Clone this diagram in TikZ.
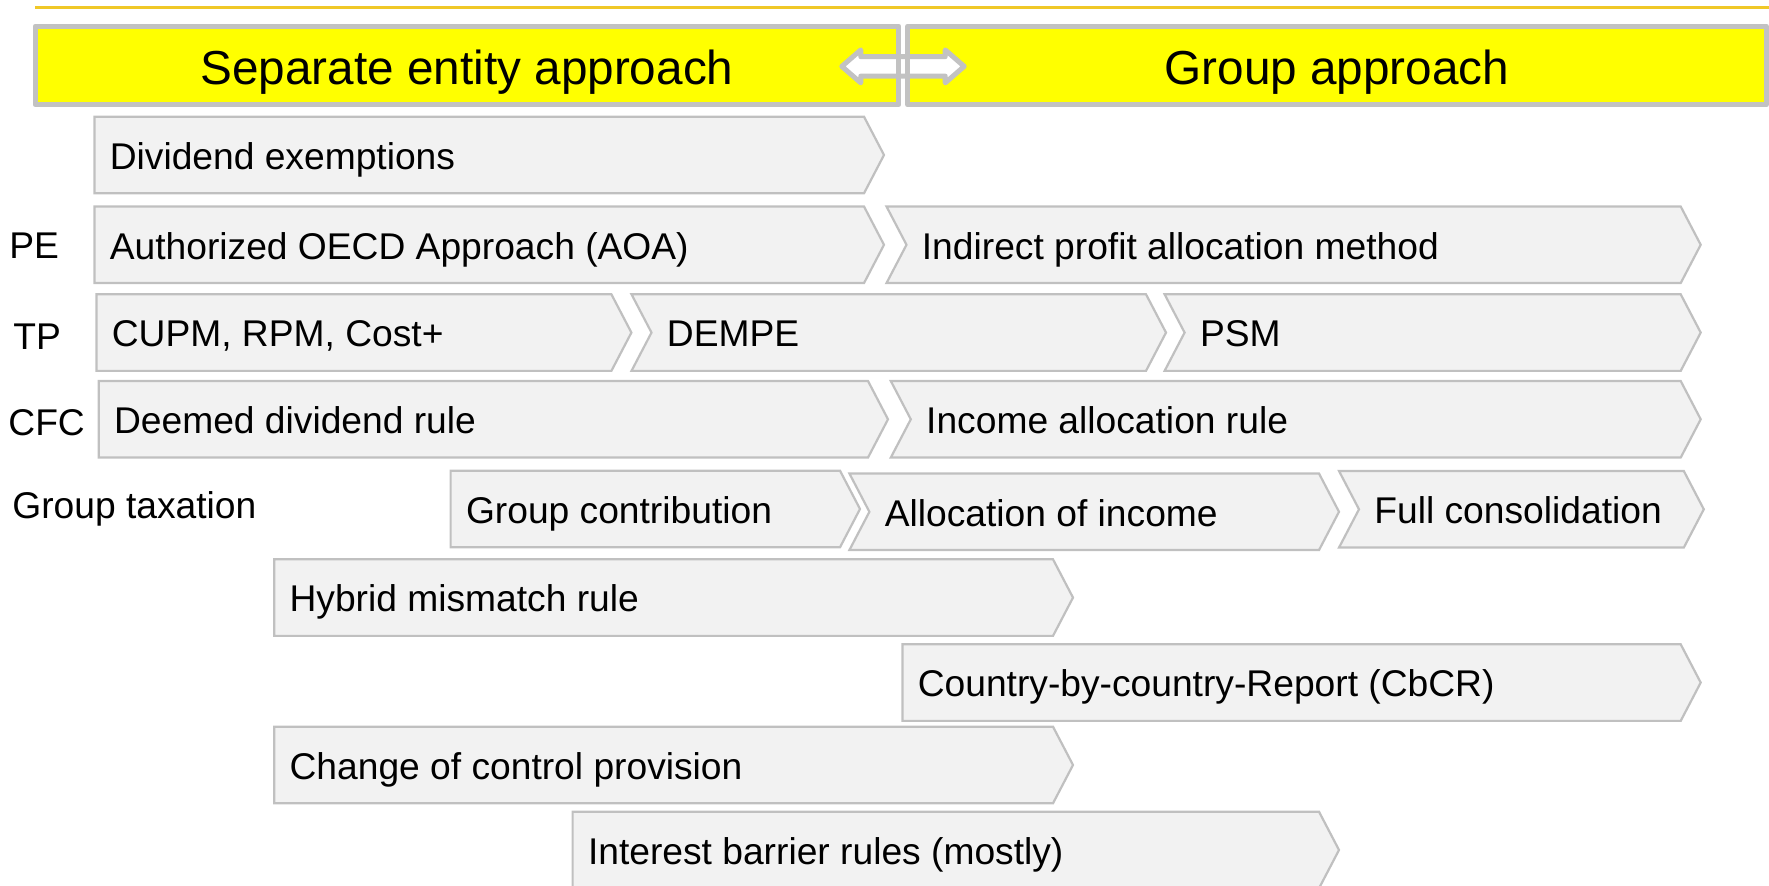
\documentclass[tikz,border=0pt]{standalone}
\usepackage{fontspec}
\setmainfont{Liberation Sans}
\usetikzlibrary{shapes.arrows}

\definecolor{hdryellow}{RGB}{255,255,0}
\definecolor{hdrgray}{RGB}{194,194,194}
\definecolor{chevfill}{RGB}{242,242,242}
\definecolor{chevline}{RGB}{192,192,192}
\definecolor{rulegold}{RGB}{240,200,40}

\newcommand{\chevflat}[5]{%
  \draw[chevbox] (#2,#4) -- (#3,#4) -- (#3+20,#4+38.3) -- (#3,#4+76.6) -- (#2,#4+76.6) -- cycle;
  \node[chevtext] (#1) at (#2+15,#4+52.6) {#5};}
\newcommand{\chevnotch}[5]{%
  \draw[chevbox] (#2,#4) -- (#3,#4) -- (#3+20,#4+38.3) -- (#3,#4+76.6) -- (#2,#4+76.6) -- (#2+20,#4+38.3) -- cycle;
  \node[chevtext] (#1) at (#2+35,#4+52.6) {#5};}

\begin{document}
\begin{tikzpicture}[x=0.5pt,y=-0.5pt,
    hdr/.style={fill=hdryellow,minimum height=38.85pt,inner sep=0pt,text height=19.1pt,text depth=0pt,font=\fontsize{23.85}{28}\selectfont},
    hdrline/.style={draw=hdrgray,line width=2.5pt,line join=round},
    chevbox/.style={draw=chevline,fill=chevfill,line width=1.1pt},
    chevtext/.style={anchor=base west,inner sep=0pt,font=\fontsize{18.6}{22}\selectfont},
    rowlabel/.style={anchor=base west,inner sep=0pt,font=\fontsize{18.6}{22}\selectfont},
    swaparrow/.style={double arrow,draw=hdrgray,fill=white,line width=2.5pt,line join=round,minimum height=61.2pt,inner sep=3.6pt,double arrow head extend=3.4pt,double arrow tip angle=82}]
    \useasboundingbox (0,0) rectangle (1769,886);
    \draw[rulegold,line width=1.5pt] (35,7.5) -- (1769,7.5);
    \node[hdr,minimum width=431.5pt] (sep) at (467,65.4) {Separate entity approach};
    \node[hdr,minimum width=429pt] (grp) at (1337,65.4) {Group approach};
    \node[swaparrow] (swap) at (903,66.4) {};
    \draw[hdrline] (sep.south west) rectangle (sep.north east);
    \draw[hdrline] (grp.south west) rectangle (grp.north east);

    \chevflat{divex}{94.4}{864}{116.7}{Dividend exemptions}
    \node[rowlabel] (pe) at (9,259) {PE};
    \chevflat{aoa}{94.4}{864}{206.5}{Authorized OECD Approach (AOA)}
    \chevnotch{ipam}{886.5}{1680.7}{206.5}{Indirect profit allocation method}
    \node[rowlabel] (tp) at (13,350) {TP};
    \chevflat{cupm}{96.4}{611.4}{294.3}{CUPM, RPM, Cost+}
    \chevnotch{dempe}{631.5}{1146}{294.3}{DEMPE}
    \chevnotch{psm}{1164.6}{1680.7}{294.3}{PSM}
    \node[rowlabel] (cfc) at (8,436) {CFC};
    \chevflat{ddr}{98.7}{868}{381}{Deemed dividend rule}
    \chevnotch{iar}{890.8}{1680.7}{381}{Income allocation rule}
    \node[rowlabel] (gtax) at (12,519) {Group taxation};
    \chevflat{gc}{450.6}{840}{470.7}{Group contribution}
    \chevnotch{aoi}{849.4}{1319}{473.5}{Allocation of income}
    \chevnotch{fc}{1339}{1683.8}{471}{Full consolidation}
    \chevflat{hmr}{274.2}{1053}{559.3}{Hybrid mismatch rule}
    \chevflat{cbcr}{902.4}{1680.7}{644.3}{Country-by-country-Report (CbCR)}
    \chevflat{ccp}{274.2}{1053}{726.7}{Change of control provision}
    \chevflat{ibr}{572.6}{1319}{811.7}{Interest barrier rules (mostly)}
\end{tikzpicture}
\end{document}
